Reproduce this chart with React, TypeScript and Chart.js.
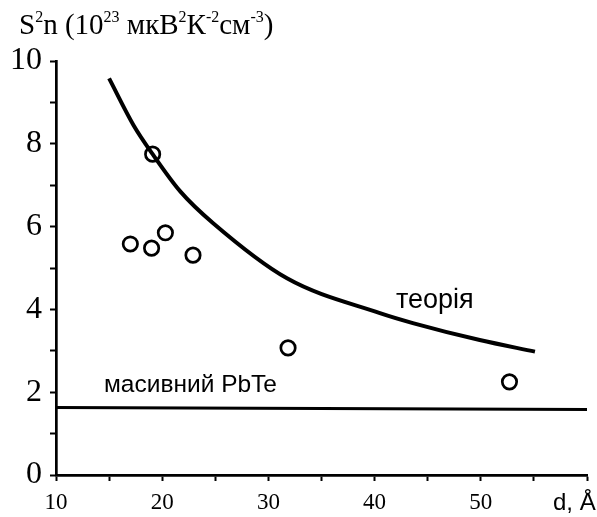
import React, { useEffect, useRef } from "react";
import { Chart, registerables } from "chart.js";

Chart.register(...registerables);

// measured points: film thickness d (Å) vs S²n (10^23 мкВ²К⁻²см⁻³)
const measuredD = [19.1, 17.0, 19.0, 20.3, 22.9, 31.85, 52.7];
const measuredS2n = [7.75, 5.58, 5.48, 5.85, 5.31, 3.07, 2.25];

// theory curve
const theoryD = [15.0, 17.3, 19.1, 21.7, 24.8, 31.75, 40.5, 43.6, 49.9, 55.1];
const theoryS2n = [9.58, 8.45, 7.75, 6.85, 6.08, 4.75, 3.91, 3.67, 3.26, 2.98];

// bulk PbTe level
const bulkD = [10, 60];
const bulkS2n = [1.63, 1.58];

const xTickLabels = ["10", "20", "30", "40", "50"];
const yTickLabels = ["0", "2", "4", "6", "8", "10"];

const SERIF = "'Liberation Serif', 'Times New Roman', serif";
const SANS = "'Liberation Sans', Arial, sans-serif";

const textPlugin = {
  id: "textPlugin",
  afterDraw(chart: any) {
    const ctx = chart.ctx as CanvasRenderingContext2D;
    ctx.save();
    ctx.fillStyle = "#000";
    ctx.textBaseline = "alphabetic";
    ctx.textAlign = "left";
    // title with superscripts
    const parts: [string, boolean][] = [
      ["S", false],
      ["2", true],
      ["n (10", false],
      ["23", true],
      [" мкВ", false],
      ["2", true],
      ["К", false],
      ["-2", true],
      ["см", false],
      ["-3", true],
      [")", false],
    ];
    let x = 19;
    const base = 34;
    for (const [t, sup] of parts) {
      ctx.font = sup ? `16px ${SERIF}` : `29px ${SERIF}`;
      ctx.fillText(t, x, sup ? base - 12 : base);
      x += ctx.measureText(t).width;
    }
    // annotations
    ctx.font = `27px ${SANS}`;
    ctx.fillText("теорія", 396, 308);
    ctx.font = `24.5px ${SANS}`;
    ctx.fillText("масивний PbTe", 104, 392);
    ctx.font = `24px ${SANS}`;
    ctx.fillText("d, Å", 553, 510);
    ctx.restore();
  },
};

export default function App() {
  const ref = useRef<HTMLCanvasElement | null>(null);
  useEffect(() => {
    document.body.style.margin = "0";
    const canvas = ref.current;
    if (!canvas) return;
    const chart = new Chart(canvas, {
      type: "scatter",
      data: {
        datasets: [
          {
            label: "теорія",
            data: theoryD.map((d, i) => ({ x: d, y: theoryS2n[i] })),
            showLine: true,
            borderColor: "#000",
            borderWidth: 4,
            pointRadius: 0,
            cubicInterpolationMode: "monotone",
          } as any,
          {
            label: "масивний PbTe",
            data: bulkD.map((d, i) => ({ x: d, y: bulkS2n[i] })),
            showLine: true,
            borderColor: "#000",
            borderWidth: 3,
            pointRadius: 0,
          },
          {
            label: "експеримент",
            data: measuredD.map((d, i) => ({ x: d, y: measuredS2n[i] })),
            pointRadius: 7.2,
            pointBorderWidth: 2.7,
            pointBorderColor: "#000",
            pointBackgroundColor: "rgba(0,0,0,0)",
          },
        ],
      },
      options: {
        animation: false,
        responsive: true,
        maintainAspectRatio: false,
        devicePixelRatio: 1,
        layout: { padding: { top: 61, right: 10, left: 0, bottom: 0 } },
        plugins: { legend: { display: false }, tooltip: { enabled: false } },
        scales: {
          x: {
            type: "linear",
            min: 10,
            max: 60,
            afterFit: (s: any) => {
              s.height = 42;
            },
            ticks: {
              stepSize: 5,
              autoSkip: false,
              maxRotation: 0,
              padding: 8,
              color: "#000",
              font: { family: SERIF, size: 23 },
              callback: (v: any) => {
                const s = String(v);
                return xTickLabels.includes(s) ? s : "";
              },
            },
            grid: {
              drawOnChartArea: false,
              drawTicks: true,
              tickLength: 6,
              tickWidth: 2,
              tickColor: "#000",
            },
            border: { display: true, color: "#000", width: 2.7 },
          },
          y: {
            type: "linear",
            min: 0,
            max: 10,
            afterFit: (s: any) => {
              s.width = 56;
            },
            ticks: {
              stepSize: 1,
              autoSkip: false,
              padding: 8,
              color: "#000",
              font: { family: SERIF, size: 32 },
              callback: (v: any) => {
                const s = String(v);
                return yTickLabels.includes(s) ? s : "";
              },
            },
            grid: {
              drawOnChartArea: false,
              drawTicks: true,
              tickLength: 6,
              tickWidth: 2,
              tickColor: "#000",
            },
            border: { display: true, color: "#000", width: 2.7 },
          },
        },
      },
      plugins: [textPlugin],
    });
    return () => chart.destroy();
  }, []);
  return (
    <div style={{ position: "absolute", left: 0, top: 0, width: 597, height: 517, background: "#fff" }}>
      <canvas ref={ref} />
    </div>
  );
}
